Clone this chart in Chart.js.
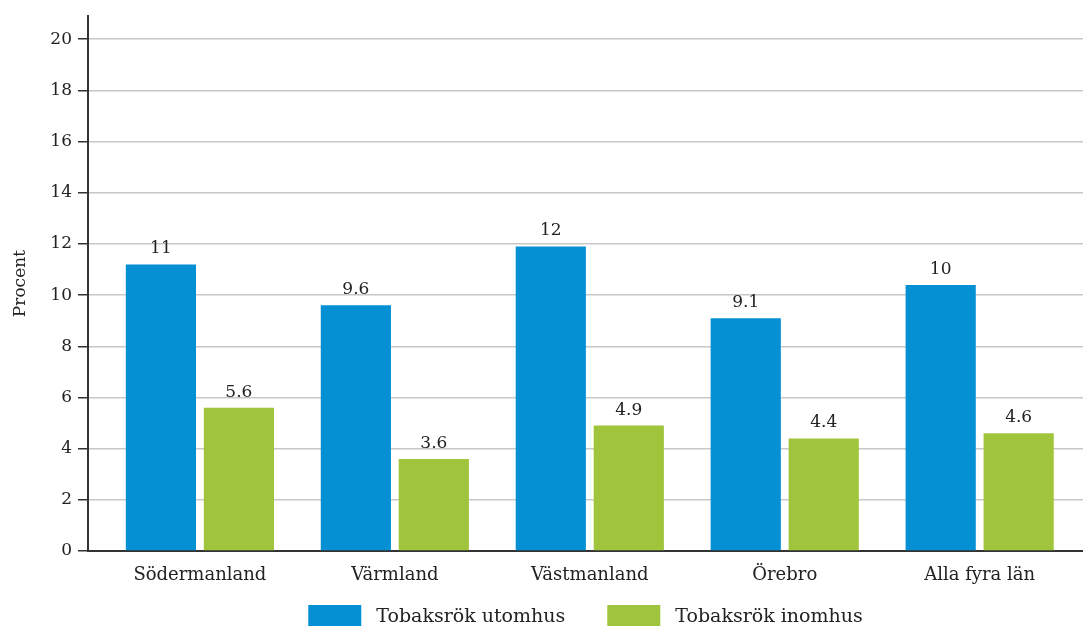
<!DOCTYPE html>
<html>
<head>
<meta charset="utf-8">
<script src="https://cdn.jsdelivr.net/npm/chart.js@4/dist/chart.umd.min.js"></script>
<style>
html,body{margin:0;padding:0;background:#fff;}
#wrap{width:1083px;height:626px;position:relative;}
</style>
</head>
<body>
<div id="wrap"><canvas id="c"></canvas></div>
<script>
const categories = ["Södermanland", "Värmland", "Västmanland", "Örebro", "Alla fyra län"];
const seriesNames = ["Tobaksrök utomhus", "Tobaksrök inomhus"];
const outdoorValues = [11.2, 9.6, 11.9, 9.1, 10.4];
const indoorValues = [5.6, 3.6, 4.9, 4.4, 4.6];
const yTickValues = [0, 2, 4, 6, 8, 10, 12, 14, 16, 18, 20];
const yAxisTitle = "Procent";

const FONT = '"DejaVu Serif", Georgia, serif';
const BLUE = '#0590d4';
const GREEN = '#a0c43c';

const valueLabels = {
  id: 'valueLabels',
  afterDatasetsDraw(chart) {
    const ctx = chart.ctx;
    ctx.save();
    ctx.font = '17px ' + FONT;
    ctx.fillStyle = '#222';
    ctx.textAlign = 'center';
    ctx.textBaseline = 'alphabetic';
    chart.data.datasets.forEach((ds, di) => {
      chart.getDatasetMeta(di).data.forEach((bar, i) => {
        ctx.fillText(ds.data[i].y.toPrecision(2), bar.x, bar.y - 11);
      });
    });
    ctx.restore();
  }
};

// Legend drawn from the datasets' own labels and colours, centred under the plot area.
const bottomLegend = {
  id: 'bottomLegend',
  afterDraw(chart) {
    const ctx = chart.ctx;
    const area = chart.chartArea;
    const boxW = 53, boxH = 21, textGap = 15, itemGap = 42;
    ctx.save();
    ctx.font = '19px ' + FONT;
    const items = chart.data.datasets.map(ds => ({ text: ds.label, color: ds.backgroundColor, w: ctx.measureText(ds.label).width }));
    const total = items.reduce((s, it) => s + boxW + textGap + it.w, 0) + itemGap * (items.length - 1);
    let x = (area.left + area.right) / 2 - total / 2;
    const boxTop = chart.height - boxH;
    items.forEach(it => {
      ctx.fillStyle = it.color;
      ctx.fillRect(x, boxTop, boxW, boxH);
      ctx.fillStyle = '#222';
      ctx.textAlign = 'left';
      ctx.textBaseline = 'alphabetic';
      ctx.fillText(it.text, x + boxW + textGap, boxTop + 17);
      x += boxW + textGap + it.w + itemGap;
    });
    ctx.restore();
  }
};

new Chart(document.getElementById('c'), {
  type: 'bar',
  data: {
    datasets: [
      { label: seriesNames[0], data: outdoorValues.map((v, i) => ({ x: i, y: v })), backgroundColor: BLUE, borderWidth: 0 },
      { label: seriesNames[1], data: indoorValues.map((v, i) => ({ x: i, y: v })), backgroundColor: GREEN, borderWidth: 0 }
    ]
  },
  options: {
    responsive: true,
    maintainAspectRatio: false,
    animation: false,
    categoryPercentage: 0.8,
    barPercentage: 0.9,
    layout: { padding: { top: 15, right: 0, left: 0, bottom: 35 } },
    plugins: {
      tooltip: { enabled: false },
      legend: { display: false }
    },
    scales: {
      x: {
        type: 'linear',
        offset: false,
        min: -0.574,
        max: 4.53,
        grid: { display: false, drawTicks: false, offset: false },
        border: { display: true, color: '#333', width: 2 },
        afterBuildTicks: (s) => { s.ticks = categories.map((c, i) => ({ value: i })); },
        afterFit: (s) => { s.height = 40; },
        ticks: {
          padding: 14,
          color: '#222',
          font: { family: FONT, size: 18 },
          maxRotation: 0,
          autoSkip: false,
          callback: (v) => categories[v]
        }
      },
      y: {
        min: 0,
        max: 20.9,
        afterBuildTicks: (s) => { s.ticks = yTickValues.map(v => ({ value: v })); },
        afterFit: (s) => { s.width = 88; },
        grid: { color: '#c8c8c8', lineWidth: 1.5, tickColor: '#333', tickLength: 10, tickWidth: 1.5 },
        border: { display: true, color: '#333', width: 2 },
        ticks: { padding: 6, color: '#222', font: { family: FONT, size: 17 } },
        title: { display: true, text: yAxisTitle, color: '#222', font: { family: FONT, size: 17 }, padding: { top: 10, bottom: 0 } }
      }
    }
  },
  plugins: [valueLabels, bottomLegend]
});
</script>
</body>
</html>
